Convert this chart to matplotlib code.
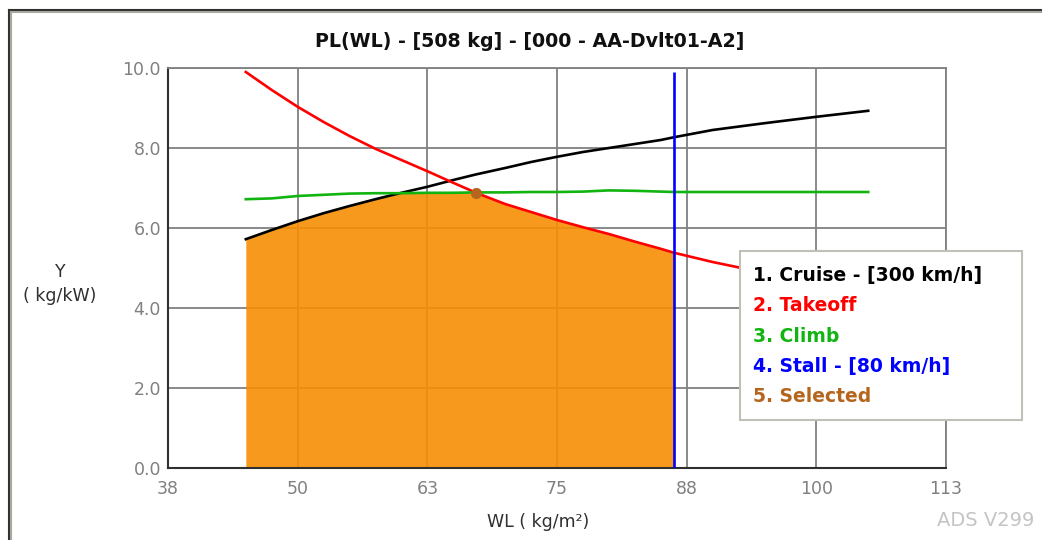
import matplotlib
matplotlib.use("Agg")
import matplotlib.pyplot as plt
import numpy as np
from matplotlib.lines import Line2D
from matplotlib.patches import Rectangle

plt.rcParams['font.family'] = ['DejaVu Sans']

# wing loading grid (kg/m2) shared by all curves
wl = [45, 47.5, 50, 52.5, 55, 57.5, 60, 62.5, 65, 67.2, 70, 72.5, 75,
      77.5, 80, 82.5, 85, 86.3, 90, 95, 100, 105]
cruise = [5.72, 5.95, 6.17, 6.37, 6.55, 6.72, 6.88, 7.03, 7.2, 7.34, 7.5,
          7.65, 7.78, 7.9, 8.0, 8.1, 8.2, 8.27, 8.45, 8.62, 8.78, 8.93]
takeoff = [9.9, 9.45, 9.03, 8.65, 8.3, 7.98, 7.7, 7.42, 7.13, 6.88, 6.6,
           6.4, 6.2, 6.02, 5.85, 5.66, 5.48, 5.38, 5.15, 4.88, 4.63, 4.4]
climb = [6.72, 6.74, 6.8, 6.83, 6.86, 6.87, 6.87, 6.88, 6.88, 6.89, 6.89,
         6.9, 6.9, 6.91, 6.94, 6.93, 6.91, 6.9, 6.9, 6.9, 6.9, 6.9]
stall_wl = 86.3
stall_top = 9.9
selected_wl = 67.2
selected_pl = 6.88

xticks = [37.5, 50, 62.5, 75, 87.5, 100, 112.5]
xtick_labels = ['38', '50', '63', '75', '88', '100', '113']
yticks = [0, 2, 4, 6, 8, 10]
ytick_labels = ['0.0', '2.0', '4.0', '6.0', '8.0', '10.0']

legend_labels = ['1. Cruise - [300 km/h]', '2. Takeoff', '3. Climb',
                 '4. Stall - [80 km/h]', '5. Selected']
colors = ['#000000', '#ff0000', '#11b411', '#0000ff', '#b5651d']

W, H = 1042, 540
fig = plt.figure(figsize=(W / 100, H / 100), dpi=100)
ax = fig.add_axes([168 / W, 1 - 468 / H, (946 - 168) / W, 400 / H])

wl_a = np.array(wl)
envelope = np.minimum(np.minimum(cruise, takeoff), climb)
ax.fill_between(wl_a, 0, envelope, where=wl_a <= stall_wl,
                color='#f68e04', alpha=0.9, lw=0, zorder=1.6)

ax.plot(wl, cruise, color=colors[0], lw=1.9, zorder=3)
ax.plot(wl, takeoff, color=colors[1], lw=1.9, zorder=3)
ax.plot(wl, climb, color=colors[2], lw=1.9, zorder=3)
ax.vlines(stall_wl, 0, stall_top, color=colors[3], lw=1.9, zorder=3)
ax.plot([selected_wl], [selected_pl], 'o', color=colors[4], ms=7, zorder=4)

ax.set_xlim(37.5, 112.5)
ax.set_ylim(0, 10)
ax.set_xticks(xticks)
ax.set_xticklabels(xtick_labels)
ax.set_yticks(yticks)
ax.set_yticklabels(ytick_labels)
ax.tick_params(length=0, labelsize=12.5, labelcolor='#808080')
ax.tick_params(axis='x', pad=9)
ax.tick_params(axis='y', pad=5)
ax.grid(True, color='#808080', lw=1.3, zorder=1.5)
for side in ['left', 'bottom']:
    ax.spines[side].set_color('#303030')
    ax.spines[side].set_linewidth(1.5)
for side in ['top', 'right']:
    ax.spines[side].set_color('#808080')
    ax.spines[side].set_linewidth(1.3)

fig.text(530 / W, 1 - 42 / H, 'PL(WL) - [508 kg] - [000 - AA-Dvlt01-A2]',
         fontsize=13.7, fontweight='bold', color='#101010',
         ha='center', va='center')

fig.text(538 / W, 1 - 522 / H, 'WL ( kg/m²)', fontsize=12.5, color='#303030',
         ha='center', va='center')
fig.text(60 / W, 1 - 284 / H, 'Y\n( kg/kW)', fontsize=12.5, color='#303030',
         ha='center', va='center', linespacing=1.45)
fig.text(1034 / W, 1 - 521 / H, 'ADS V299', fontsize=14, color='#c4c4c4',
         ha='right', va='center')

# legend box drawn by hand so it keeps the reference's proportions
fig.add_artist(Rectangle((740 / W, 1 - 420 / H), 282 / W, 169 / H,
                         transform=fig.transFigure, facecolor='white',
                         edgecolor='#c0c0b8', lw=1.5, zorder=10))
for i, (lab, c) in enumerate(zip(legend_labels, colors)):
    fig.text(753 / W, 1 - (275 + 30.5 * i) / H, lab, color=c,
             fontsize=13.5, fontweight='bold', ha='left', va='center',
             zorder=11)

# window frame, top and left edges
fig.add_artist(Line2D([9 / W, 1], [1 - 10 / H, 1 - 10 / H], color='#303030', lw=1.5))
fig.add_artist(Line2D([9 / W, 9 / W], [0, 1 - 10 / H], color='#303030', lw=1.5))
fig.add_artist(Line2D([11 / W, 1], [1 - 12 / H, 1 - 12 / H], color='#a8a8a0', lw=1.5))
fig.add_artist(Line2D([11 / W, 11 / W], [0, 1 - 12 / H], color='#a8a8a0', lw=1.5))

fig.savefig('out.png', dpi=100)
